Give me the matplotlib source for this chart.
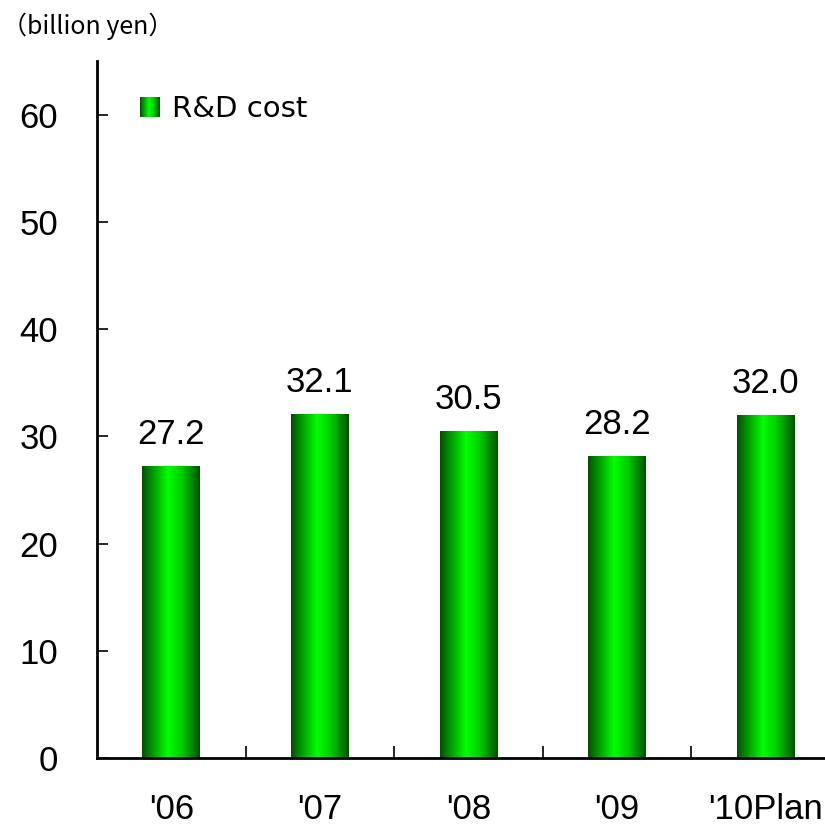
import numpy as np
import matplotlib
matplotlib.use("Agg")
import matplotlib.pyplot as plt
from matplotlib.colors import LinearSegmentedColormap
from matplotlib.patches import Rectangle
from matplotlib.legend_handler import HandlerPatch

years = ["'06", "'07", "'08", "'09", "'10Plan"]
rd_cost = [27.2, 32.1, 30.5, 28.2, 32.0]
y_ticks = [0, 10, 20, 30, 40, 50, 60]
unit_label = "（billion yen）"
series_name = "R&D cost"

num_font = "Liberation Sans"
jp_font = ["Noto Sans CJK JP", "DejaVu Sans"]
legend_font = ["DejaVu Sans", "Noto Sans CJK JP"]

green = LinearSegmentedColormap.from_list(
    "bar_green",
    [(0.0, "#005000"), (0.2, "#00a000"), (0.45, "#00ff00"),
     (0.7, "#00c800"), (1.0, "#005000")],
)
grad = np.linspace(0, 1, 256).reshape(1, -1)

fig = plt.figure(figsize=(8.25, 8.25), dpi=100)
ax = fig.add_axes([0.1176, 0.0812, 0.9006, 0.8444])

x = np.arange(len(years))
bar_w = 0.39
bars = ax.bar(x, rd_cost, width=bar_w, color="none", edgecolor="none", zorder=2)

# shade each bar with a horizontal green gradient clipped to the bar
for b in bars:
    x0, y0 = b.get_x(), b.get_y()
    w, h = b.get_width(), b.get_height()
    im = ax.imshow(grad, cmap=green, aspect="auto",
                   extent=(x0, x0 + w, y0, y0 + h), zorder=2,
                   interpolation="bilinear")
    im.set_clip_path(b)

for xi, v in zip(x, rd_cost):
    ax.annotate(f"{v:.1f}", (xi, v), xytext=(0, 11), textcoords="offset points",
                ha="center", va="bottom", fontsize=25, family=num_font)

ax.set_xlim(-0.5, len(years) - 0.5)
ax.set_ylim(0, 65)

ax.set_yticks(y_ticks)
ax.set_yticklabels([str(t) for t in y_ticks], fontsize=25, family=num_font)
ax.tick_params(axis="y", direction="in", length=8, width=1.2, pad=28)

ax.set_xticks(x)
ax.set_xticklabels(years, fontsize=25, family=num_font)
ax.tick_params(axis="x", length=0, pad=25)
# category separators as inward ticks on the x axis
ax.set_xticks(np.arange(len(years) - 1) + 0.5, minor=True)
ax.tick_params(axis="x", which="minor", direction="in", length=9, width=1.2)

for side in ("top", "right"):
    ax.spines[side].set_visible(False)
for side in ("left", "bottom"):
    ax.spines[side].set_linewidth(2)

fig.text(0.002, 0.968, unit_label, fontsize=18, family=jp_font, va="center", ha="left")


class GradientSquare(HandlerPatch):
    def create_artists(self, legend, orig_handle, xdescent, ydescent,
                       width, height, fontsize, trans):
        from matplotlib.image import BboxImage
        from matplotlib.transforms import Bbox, TransformedBbox
        side = height * 0.95
        x0 = xdescent * -1 + (width - side) / 2
        y0 = ydescent * -1 + (height - side) / 2
        bb = TransformedBbox(Bbox.from_bounds(x0, y0, side, side), trans)
        img = BboxImage(bb, cmap=green, interpolation="bilinear")
        img.set_data(grad)
        return [img]


handle = Rectangle((0, 0), 1, 1)
leg = ax.legend([handle], [series_name], handler_map={Rectangle: GradientSquare()},
                loc="upper left", bbox_to_anchor=(0.04, 0.968), frameon=False,
                prop={"family": legend_font, "size": 21}, handlelength=0.8,
                handletextpad=0.35, borderaxespad=0)

fig.savefig("out.png", dpi=100)
